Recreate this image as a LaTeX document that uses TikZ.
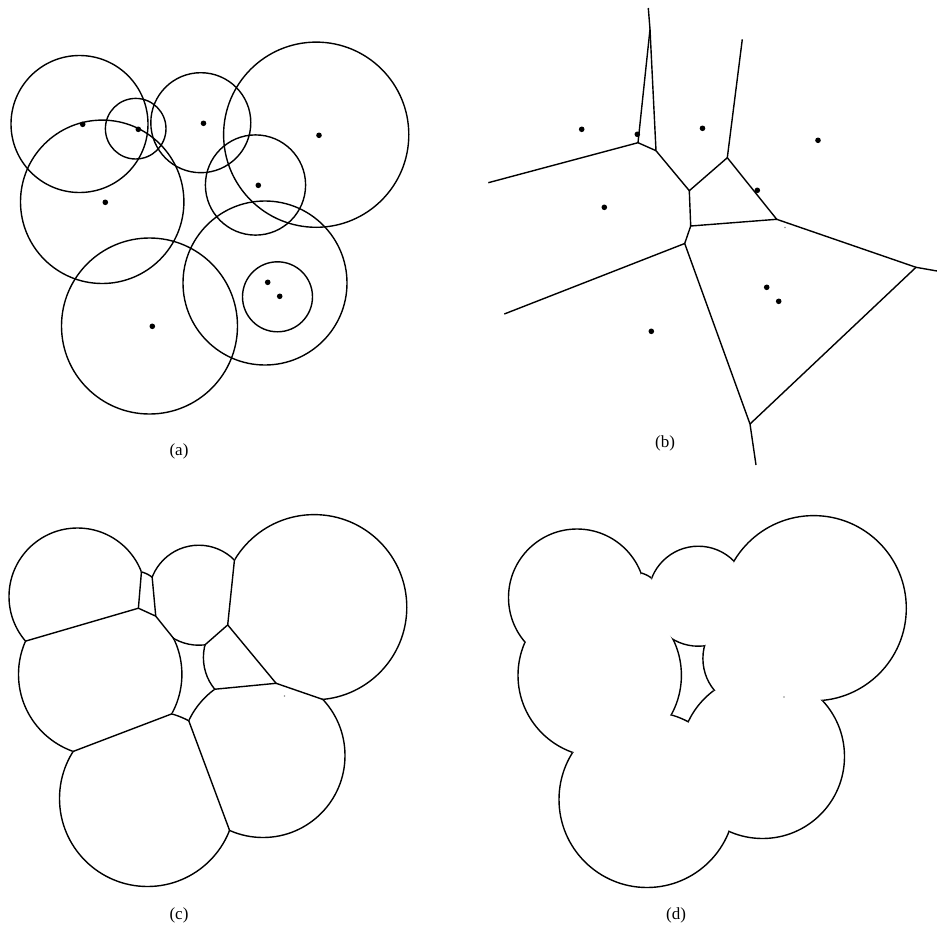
\documentclass[tikz,border=0pt]{standalone}
\usepackage{fontspec}
\setmainfont{Liberation Serif}
\usetikzlibrary{calc}

% raios dos circulos (em px da figura)
\newcommand{\raioA}{68.5}
\newcommand{\raioB}{30.3}
\newcommand{\raioC}{50}
\newcommand{\raioD}{92.6}
\newcommand{\raioE}{50.1}
\newcommand{\raioF}{81.7}
\newcommand{\raioG}{82}
\newcommand{\raioH}{35}
\newcommand{\raioI}{88}

% centros, vertices do diagrama de potencia e pontos distantes dos raios
\newcommand{\geometria}{%
  \coordinate (cA) at (79.5,124);
  \coordinate (cB) at (135.7,128.7);
  \coordinate (cC) at (200.8,122.7);
  \coordinate (cD) at (316.2,134.7);
  \coordinate (cE) at (255.5,185);
  \coordinate (cF) at (102.2,201.8);
  \coordinate (cG) at (265,283);
  \coordinate (cH) at (277.5,296.8);
  \coordinate (cI) at (149.5,326);
  \coordinate (v0) at (148.3,41.1);
  \coordinate (v1) at (140.4,135.7);
  \coordinate (v2) at (157.75,143.66);
  \coordinate (v3) at (191.6,185.86);
  \coordinate (v4) at (229.7,152.4);
  \coordinate (v5) at (195.2,218.8);
  \coordinate (v6) at (278.1,210.8);
  \coordinate (v7) at (186.4,236.55);
  \coordinate (fAC) at (145.1,-258.9);
  \coordinate (fAF) at (-147.6,219.7);
  \coordinate (fCD) at (260.7,-146);
  \coordinate (fFI) at (-94,343.4);
  \coordinate (fDG) at (656,341.2);
  \coordinate (fGI) at (326,611.5);
  \coordinate (marca) at (286.5,223.5);
}

% celulas de potencia
\newcommand{\celA}{(fAC) -- (v0) -- (v1) -- (fAF) -- (fAF |- fAC) -- cycle}
\newcommand{\celB}{(v0) -- (v1) -- (v2) -- cycle}
\newcommand{\celC}{(fAC) -- (v0) -- (v2) -- (v3) -- (v4) -- (fCD) -- cycle}
\newcommand{\celD}{(v4) -- (fCD) -- (fDG |- fCD) -- (fDG) -- (v6) -- cycle}
\newcommand{\celE}{(v3) -- (v4) -- (v6) -- (v5) -- cycle}
\newcommand{\celF}{(v1) -- (v2) -- (v3) -- (v5) -- (v7) -- (fFI) -- (fAF) -- cycle}
\newcommand{\celG}{(v7) -- (v5) -- (v6) -- (fDG) -- (fGI) -- cycle}
\newcommand{\celI}{(v7) -- (fGI) -- (fFI |- fGI) -- (fFI) -- cycle}

% uniao dos discos
\newcommand{\uniao}{(cA) circle (\raioA) (cB) circle (\raioB) (cC) circle (\raioC)
  (cD) circle (\raioD) (cE) circle (\raioE) (cF) circle (\raioF) (cG) circle (\raioG)
  (cI) circle (\raioI)}

% cada circulo recortado pela sua celula
\newcommand{\arco}[3]{\begin{scope}\clip #1; \draw (#2) circle (#3);\end{scope}}
\newcommand{\contorno}{%
  \arco{\celA}{cA}{\raioA}
  \arco{\celB}{cB}{\raioB}
  \arco{\celC}{cC}{\raioC}
  \arco{\celD}{cD}{\raioD}
  \arco{\celE}{cE}{\raioE}
  \arco{\celF}{cF}{\raioF}
  \arco{\celG}{cG}{\raioG}
  \arco{\celI}{cI}{\raioI}
}

\newcommand{\pontos}{%
  \foreach \x/\y in {82.7/124.3, 138.3/129.3, 203.5/123.3, 319/135.3, 258.3/185.3,
    105.3/202.3, 267.7/282.3, 279.7/296.3, 152.3/326.3}
    \fill (\x,\y) circle (2.8);
}

\begin{document}
\begin{tikzpicture}[x=1pt, y=-1pt, line width=1.4pt,
  rotulo/.style={font=\fontsize{17}{20}\selectfont, inner sep=0pt},
  marquinha/.style={fill=black!45, draw=none}]

% --- PAINEL (a): circulos e centros ---
\begin{scope}
  \geometria
  \foreach \c/\r in {cA/\raioA, cB/\raioB, cC/\raioC, cD/\raioD, cE/\raioE,
    cF/\raioF, cG/\raioG, cH/\raioH, cI/\raioI}
    \draw (\c) circle (\r);
  \pontos
\end{scope}
\node[rotulo] (la) at (179,451) {(a)};

% --- PAINEL (b): diagrama de potencia ---
\begin{scope}[shift={(499,5)}]
  \pontos
\end{scope}
\coordinate (b0) at (650,29.3);
\coordinate (b1) at (638,142.7);
\coordinate (b2) at (656,150.7);
\coordinate (b3) at (689.3,190.7);
\coordinate (b4) at (727.3,157.7);
\coordinate (b5) at (690.7,226);
\coordinate (b6) at (776.7,219.3);
\coordinate (b7) at (684.7,243.5);
\coordinate (b8) at (750,424);
\coordinate (b9) at (916,267.3);
\draw (648.3,8) -- (b0) -- (b1) -- (488.3,182.7);
\draw (b0) -- (b2) -- (b1);
\draw (b2) -- (b3) -- (b4) -- (742.3,39.3);
\draw (b4) -- (b6) -- (b5) -- (b3);
\draw (b5) -- (b7) -- (504.3,314);
\draw (b7) -- (b8) -- (756,465);
\draw (b8) -- (b9) -- (937,271);
\draw (b6) -- (b9);
\fill[marquinha] (785,227.5) circle (0.8);
\node[rotulo] (lb) at (665,443) {(b)};

% --- PAINEL (c): uniao decomposta pelas celulas ---
\begin{scope}[shift={(-2,472.5)}]
  \geometria
  \contorno
  \begin{scope}
    \clip \uniao;
    \draw (v0) -- (v1) -- (v2) -- cycle;
    \draw (v2) -- (v3) -- (v4) -- (v6) -- (v5) -- (v3);
    \draw (v5) -- (v7);
    \draw (v1) -- (fAF) (v0) -- (fAC) (v4) -- (fCD) (v6) -- (fDG)
      (v7) -- (fFI) (v7) -- (fGI);
  \end{scope}
  \fill[marquinha] (marca) circle (0.8);
\end{scope}
\node[rotulo] (lc) at (179,915) {(c)};

% --- PAINEL (d): bordo da uniao ---
\begin{scope}[shift={(497.5,473.5)}]
  \geometria
  \contorno
  \fill[marquinha] (marca) circle (0.8);
\end{scope}
\node[rotulo] (ld) at (676,915) {(d)};

\pgfresetboundingbox
\path[use as bounding box] (0,0) rectangle (937,937);
\end{tikzpicture}
\end{document}
